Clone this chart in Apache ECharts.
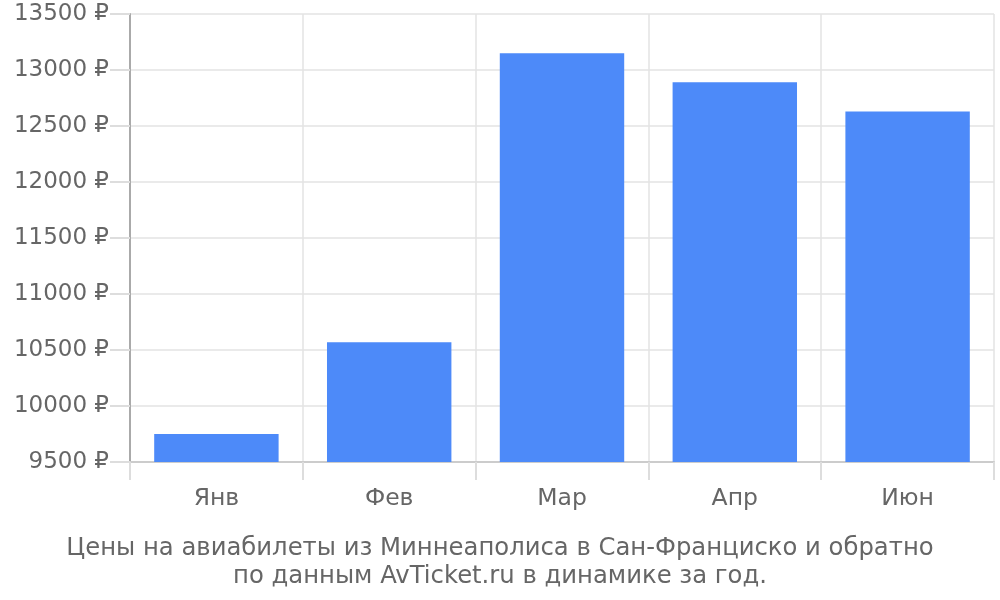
<!DOCTYPE html>
<html>
<head>
<meta charset="utf-8">
<script src="https://cdn.jsdelivr.net/npm/echarts@6/dist/echarts.min.js"></script>
<style>
html,body{margin:0;padding:0;background:#fff;}
#chart{width:1000px;height:600px;}
</style>
</head>
<body>
<div id="chart"></div>
<script>
// месяцы и цены
var months = ['Янв', 'Фев', 'Мар', 'Апр', 'Июн'];
var prices = [9750, 10570, 13150, 12890, 12630];
var yTicks = [9500, 10000, 10500, 11000, 11500, 12000, 12500, 13000, 13500];

var myChart = echarts.init(document.getElementById('chart'));
var option = {
  animation: false,
  textStyle: { fontFamily: 'DejaVu Sans' },
  title: {
    text: 'Цены на авиабилеты из Миннеаполиса в Сан-Франциско и обратно\nпо данным AvTicket.ru в динамике за год.',
    left: 'center',
    top: 530,
    textStyle: {
      color: '#666',
      fontSize: 24.3,
      fontWeight: 'normal',
      fontFamily: 'DejaVu Sans',
      lineHeight: 28
    }
  },
  grid: {
    left: 130,
    right: 6,
    top: 14,
    bottom: 138
  },
  xAxis: {
    type: 'category',
    data: months,
    axisLine: { lineStyle: { color: '#ccc', width: 2 } },
    axisTick: { show: true, length: 18, lineStyle: { color: '#ddd', width: 2 } },
    axisLabel: { color: '#666', fontSize: 23.5, margin: 25 },
    splitLine: { show: true, lineStyle: { color: '#e3e3e3', width: 1.5 } }
  },
  yAxis: {
    type: 'value',
    min: yTicks[0],
    max: yTicks[yTicks.length - 1],
    interval: 500,
    axisLine: { show: true, lineStyle: { color: '#aaa', width: 2 } },
    axisTick: { show: true, length: 20, lineStyle: { color: '#ddd', width: 2 } },
    axisLabel: {
      color: '#666',
      fontSize: 23,
      margin: 21,
      formatter: function (v) { return v + ' ₽'; }
    },
    splitLine: { show: true, lineStyle: { color: '#e3e3e3', width: 1.5 } }
  },
  series: [
    {
      type: 'bar',
      data: prices,
      barCategoryGap: '28%',
      itemStyle: { color: '#4d8af9' }
    }
  ]
};
myChart.setOption(option);
</script>
</body>
</html>
